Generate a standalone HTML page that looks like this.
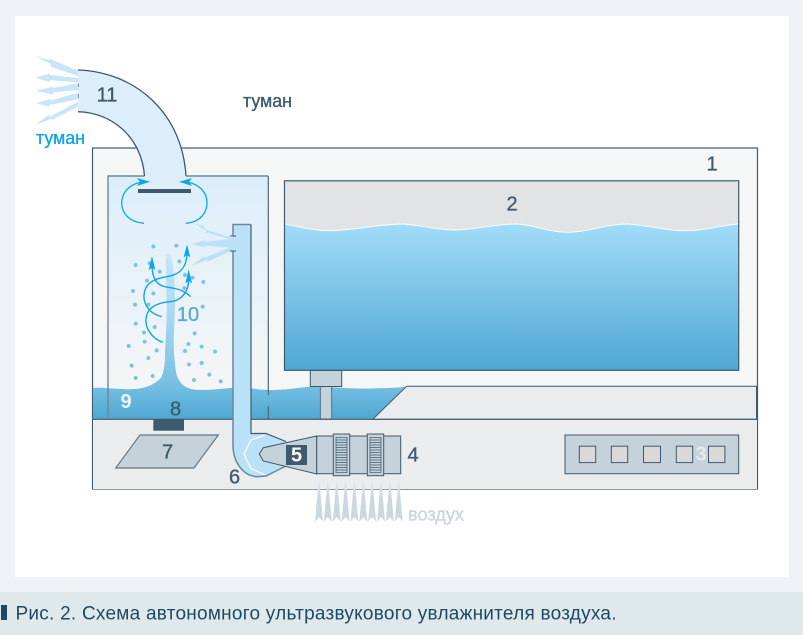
<!DOCTYPE html>
<html><head><meta charset="utf-8"><style>
html,body{margin:0;padding:0;background:#eef4f5;}
svg{display:block}
text{font-family:"Liberation Sans",sans-serif;}
</style></head><body>
<svg width="803" height="635" viewBox="0 0 803 635" xmlns="http://www.w3.org/2000/svg">
<defs>
<linearGradient id="w" gradientUnits="userSpaceOnUse" x1="0" y1="224" x2="0" y2="370"><stop offset="0" stop-color="#a2dcf8"/><stop offset="1" stop-color="#50a8d3"/></linearGradient>
<linearGradient id="p" gradientUnits="userSpaceOnUse" x1="0" y1="253" x2="0" y2="419"><stop offset="0" stop-color="#c6e6f6"/><stop offset=".4" stop-color="#a6d7f0"/><stop offset=".8" stop-color="#75bfe4"/><stop offset="1" stop-color="#4fa7d1"/></linearGradient>
<linearGradient id="c" gradientUnits="userSpaceOnUse" x1="0" y1="176" x2="0" y2="390"><stop offset="0" stop-color="#dceefa"/><stop offset="1" stop-color="#f5f6f6"/></linearGradient>
<linearGradient id="s" gradientUnits="userSpaceOnUse" x1="0" y1="477" x2="0" y2="522"><stop offset="0" stop-color="#e4eaee"/><stop offset=".45" stop-color="#ccd8df"/><stop offset="1" stop-color="#ccd8df"/></linearGradient>
</defs>
<rect width="803" height="635" fill="#eef4f5"/>
<rect x="15" y="16" width="774" height="561" fill="#fff"/>
<rect x="0" y="592" width="803" height="43" fill="#dfe9ec"/>
<rect x="1" y="605" width="6" height="15" fill="#1d4a62"/>
<text x="15.500" y="619.500" font-size="19" fill="#1d4a62" textLength="601" lengthAdjust="spacing">Рис. 2. Схема автономного ультразвукового увлажнителя воздуха.</text>

<!-- outer box -->
<rect x="92.500" y="148" width="665" height="341" fill="#f5f6f6" stroke="#3e5a6e" stroke-width="1.200"/>
<rect x="93" y="419" width="664" height="70" fill="#ebecee"/>

<!-- chamber -->
<rect x="108" y="176" width="160.500" height="243" fill="url(#c)"/>

<!-- water & plume -->
<path d="M93,388 C105,387 120,390 135,389 C148,388 157,383 161.700,376.700 C165,368 165,358 165,353 C166,335 167,315 166.700,300 C166,285 166,272 166,263 C166,258 167,254 168.300,253.300 C170,255 172,259 172.700,263 C174,275 175,288 175,300 C175,318 173,338 174,353 C175,362 175,370 177.300,376.700 C180,383 184,388 194,389.500 C210,391 222,388 240,387.500 C252,388 260,390 272,390 C285,390 295,388 308,387 C325,386 345,389 370,388.500 C385,388 398,388 407,386.500 L373,419 L93,419 Z" fill="url(#p)"/>

<!-- chamber walls -->
<path d="M108,419 L108,176 L144.500,176 M186,176 L268.300,176" fill="none" stroke="#6f8797" stroke-width="1.400"/>
<path d="M268.300,176 L268.300,395 M268.300,406 L268.300,419" fill="none" stroke="#4d6779" stroke-width="1.200"/>

<!-- pipe 11 -->
<path d="M78,70 C135,72 182,112 186,176 L144.500,176 C142,140 115,113 78,111.700 Z" fill="#dbeefa"/>
<path d="M78,70 C135,72 182,112 186,176 M78,111.700 C115,113 142,140 144.500,176" fill="none" stroke="#3e5a6e" stroke-width="1.300"/>
<path d="M78,83.500 V87 M78,94 V98" stroke="#3e5a6e" stroke-width="1.100" fill="none"/>

<!-- fog jets left -->
<g fill="#c8e6f7">
<path d="M35,56 L50,60.500 L49,58.500 L78,70.700 L78,76 L50,66.500 L51,64 Z"/>
<path d="M35,77.700 L50,73.500 L50,75 L78,78 L78,82.500 L50,80 L50,82 Z"/>
<path d="M36,90.700 L53,86.500 L53,88 L78,83.300 L78,90 L53,92.500 L53,94.500 Z"/>
<path d="M36,103 L50,99 L50,100.500 L78,92.700 L78,99.300 L49,105 L50,107 Z"/>
<path d="M35,125 L50,114 L49,117 L78,101.700 L78,106.700 L50,120.700 L52,118.500 Z"/>
</g>
<!-- fog jets chamber -->
<g fill="#bce1f6">
<path d="M194,223.300 L205,226.800 L204,229 L233,238 L233,240 L205,232 L207,231 Z"/>
<path d="M191.700,244 L205,240.500 L205,242 L233,238.500 L233,248 L205,245.500 L205,247.500 Z"/>
<path d="M191.700,265.700 L205,255.500 L204,258 L233,246 L233,250 L206.700,262 L208,259.500 Z"/>
</g>

<!-- tube 6 upper -->
<path d="M233,236 V224.500 H251 V419 H233 V251" fill="#b9e1f8"/>
<path d="M233,236 V224.500 H251 M233,251 V419" fill="none" stroke="#6f8797" stroke-width="1.500"/>
<path d="M251,224.500 V419" fill="none" stroke="#3e5a6e" stroke-width="1.200"/>
<path d="M230,236 H236 M230,251 H236" stroke="#3e5a6e" stroke-width="1"/>

<!-- blue arrows top -->
<g fill="none" stroke="#0ea5ea" stroke-width="1.300">
<path d="M144,223.300 C128,222 121.700,212 121.700,203 C121.700,192 130,184 142,182"/>
<path d="M185.700,223.300 C201,222 207,212 207,203 C207,192 199,184 187,182"/>
</g>
<path d="M150,181.700 L137,178 L140,182 L137,186 Z M179,181.700 L192,178 L189,182 L192,186 Z" fill="#0ea5ea"/>
<rect x="138" y="189" width="53" height="4" fill="#3e5a6e"/>

<!-- dots and S arrows -->
<g transform="translate(100,220) scale(.33333)">
<g fill="#7cc3e8">
<circle cx="160" cy="79" r="6"/><circle cx="229" cy="77" r="6"/><circle cx="107" cy="135" r="6"/><circle cx="149" cy="130" r="6"/><circle cx="238" cy="124" r="6"/><circle cx="179" cy="155" r="6"/><circle cx="141" cy="182" r="6"/><circle cx="255" cy="165" r="6"/><circle cx="277" cy="173" r="6"/><circle cx="310" cy="186" r="6"/><circle cx="99" cy="213" r="6"/><circle cx="160" cy="220" r="6"/><circle cx="253" cy="204" r="6"/><circle cx="105" cy="254" r="6"/><circle cx="145" cy="254" r="6"/><circle cx="308" cy="260" r="6"/><circle cx="107" cy="311" r="6"/><circle cx="164" cy="321" r="6"/><circle cx="132" cy="338" r="6"/><circle cx="284" cy="340" r="6"/><circle cx="134" cy="365" r="6"/><circle cx="265" cy="372" r="6"/><circle cx="86" cy="378" r="6"/><circle cx="305" cy="380" r="6"/><circle cx="170" cy="391" r="6"/><circle cx="255" cy="393" r="6"/><circle cx="345" cy="395" r="6"/><circle cx="145" cy="414" r="6"/><circle cx="95" cy="437" r="6"/><circle cx="267" cy="433" r="6"/><circle cx="305" cy="429" r="6"/><circle cx="107" cy="474" r="6"/><circle cx="158" cy="468" r="6"/><circle cx="328" cy="464" r="6"/><circle cx="282" cy="480" r="6"/><circle cx="362" cy="484" r="6"/>
</g>
<g fill="none" stroke="#0ea5ea" stroke-width="4.200">
<path d="M185,290 C150,282 130,255 132,225 C134,190 165,175 200,170 C240,165 262,140 261,95"/>
<path d="M188,367 C155,355 135,325 138,295 C142,262 170,248 210,245 C245,242 268,215 266,170"/>
<path d="M272,230 C245,205 220,205 195,200 C170,195 155,175 156,130"/>
</g>
<path d="M261,73 L271,112 L261,105 L251,112 Z M266,148 L276,190 L266,183 L256,190 Z M156,108 L166,150 L156,143 L146,150 Z" fill="#0ea5ea"/>
</g>

<!-- tank -->
<rect x="284.500" y="180.800" width="454.200" height="189.500" fill="#e1e3e5"/>
<path d="M284.500,224 C305,228 315,231 333,230.700 C355,230 380,224 403,224 C422,225 435,230 455,230 C475,230 495,224 517,224 C535,225 548,232 567,232.300 C590,232 605,224 627,224 C648,225 665,230.700 685,230.700 C705,231 720,225 738.700,224 L738.700,370.300 L284.500,370.300 Z" fill="url(#w)"/>
<path d="M284.500,224 C305,228 315,231 333,230.700 C355,230 380,224 403,224 C422,225 435,230 455,230 C475,230 495,224 517,224 C535,225 548,232 567,232.300 C590,232 605,224 627,224 C648,225 665,230.700 685,230.700 C705,231 720,225 738.700,224" fill="none" stroke="#fff" stroke-width=".9"/>
<rect x="284.500" y="180.800" width="454.200" height="189.500" fill="none" stroke="#3e5a6e" stroke-width="1.200"/>

<!-- stand -->
<rect x="320.300" y="386" width="11.400" height="33" fill="#c5d2da" stroke="#3e5a6e" stroke-width=".8"/>
<rect x="310.300" y="370.500" width="31.400" height="16" fill="#c5d2da" stroke="#3e5a6e" stroke-width="1"/>

<!-- slab -->
<path d="M406.700,386.200 L756.500,386.200 L756.500,419.300 L372.700,419.300 Z" fill="#ebecee" stroke="#3e5a6e" stroke-width="1"/>

<!-- lower box -->
<path d="M92.500,419.300 H757.500" stroke="#3e5a6e" stroke-width="1.200"/>
<path d="M233,418 V445 C233,462 243,476 257,476.700 L266,476 L285,466 V441 L266,433.500 H251 V418 Z" fill="#b9e1f8"/>
<path d="M233,418 V445 C233,462 243,476 257,476.700 L266,476 L286,466" fill="none" stroke="#6f8797" stroke-width="1.500"/>
<path d="M251,418 V433.500 H266 L286,441.500" fill="none" stroke="#3e5a6e" stroke-width="1.200"/>
<path d="M265,435 L251,440 L244,454 L250.700,468.300 L265,475" fill="none" stroke="#fff" stroke-width="1.200"/>

<rect x="153.300" y="419.500" width="30.700" height="11.200" fill="#3e5a6e"/>
<path d="M140,435 H218.300 L194,468 H115.700 Z" fill="#c5d2da" stroke="#5f7a8a" stroke-width="1.200"/>

<!-- cone -->
<path d="M316.700,436 L263.300,447.700 L259.300,454 L263.300,461 L316.700,474 Z" fill="#c5d2da" stroke="#3e5a6e" stroke-width="1"/>
<rect x="286" y="445" width="21" height="20" fill="#3e5a6e"/>

<!-- fan -->
<rect x="316.700" y="436" width="84" height="37.700" fill="#c5d2da" stroke="#3e5a6e" stroke-width="1"/>
<g>
<rect x="333.300" y="434" width="16.400" height="41.700" fill="#c5d2da" stroke="#3e5a6e" stroke-width="1"/>
<rect x="336" y="437.500" width="11" height="35" fill="#c5d2da" stroke="#3e5a6e" stroke-width=".7"/>
<path d="M336,440 H347 M336,442.500 H347 M336,445 H347 M336,447.500 H347 M336,450 H347 M336,452.500 H347 M336,455 H347 M336,457.500 H347 M336,460 H347 M336,462.500 H347 M336,465 H347 M336,467.500 H347 M336,470 H347" stroke="#3e5a6e" stroke-width=".8"/>
<rect x="367.300" y="434" width="16.400" height="41.700" fill="#c5d2da" stroke="#3e5a6e" stroke-width="1"/>
<rect x="370" y="437.500" width="11" height="35" fill="#c5d2da" stroke="#3e5a6e" stroke-width=".7"/>
<path d="M370,440 H381 M370,442.500 H381 M370,445 H381 M370,447.500 H381 M370,450 H381 M370,452.500 H381 M370,455 H381 M370,457.500 H381 M370,460 H381 M370,462.500 H381 M370,465 H381 M370,467.500 H381 M370,470 H381" stroke="#3e5a6e" stroke-width=".8"/>
</g>

<!-- air spikes -->
<g fill="url(#s)">
<path d="M319,477.300 L323,521.700 L319,517 L315,521.700 Z"/>
<path d="M327.800,477.300 L331.800,521.700 L327.800,517 L323.800,521.700 Z"/>
<path d="M336.700,477.300 L340.700,521.700 L336.700,517 L332.700,521.700 Z"/>
<path d="M345.600,477.300 L349.600,521.700 L345.600,517 L341.600,521.700 Z"/>
<path d="M354.400,477.300 L358.400,521.700 L354.400,517 L350.400,521.700 Z"/>
<path d="M363.300,477.300 L367.300,521.700 L363.300,517 L359.300,521.700 Z"/>
<path d="M372.100,477.300 L376.100,521.700 L372.100,517 L368.100,521.700 Z"/>
<path d="M381,477.300 L385,521.700 L381,517 L377,521.700 Z"/>
<path d="M389.900,477.300 L393.900,521.700 L389.900,517 L385.900,521.700 Z"/>
<path d="M398.700,477.300 L402.700,521.700 L398.700,517 L394.700,521.700 Z"/>
</g>

<!-- control panel -->
<rect x="565" y="435" width="173.700" height="38.700" fill="#c5d2da" stroke="#3e5a6e" stroke-width="1"/>
<g fill="#d9d9d9" stroke="#3e5a6e" stroke-width="1">
<rect x="579.300" y="446.200" width="16.400" height="16.400"/>
<rect x="611.300" y="446.200" width="16.400" height="16.400"/>
<rect x="643.500" y="446.200" width="17" height="16.400"/>
<rect x="676.300" y="446.200" width="16.400" height="16.400"/>
<rect x="708.500" y="446.200" width="16.400" height="16.400"/>
</g>

<!-- labels -->
<g font-size="20" fill="#3e5a6e" stroke="#3e5a6e" stroke-width=".35" text-anchor="middle">
<text x="107" y="101.500">11</text>
<text x="712" y="170.500">1</text>
<text x="512" y="210.500">2</text>
<text x="413" y="461.500">4</text>
<text x="234.500" y="483.500">6</text>
<text x="167.500" y="458.500">7</text>
<text x="175.500" y="415.500">8</text>
</g>
<text x="701" y="460.500" font-size="20" font-weight="bold" fill="#e3e9ec" text-anchor="middle">3</text>
<text x="296.500" y="461.500" font-size="20" font-weight="bold" fill="#fff" text-anchor="middle">5</text>
<text x="126" y="408" font-size="20" font-weight="bold" fill="#e8f4fa" text-anchor="middle">9</text>
<text x="188" y="321" font-size="20" fill="#5aaad4" stroke="#5aaad4" stroke-width=".35" text-anchor="middle">10</text>
<g font-size="18">
<text x="243" y="107" fill="#3e5a6e" stroke="#3e5a6e" stroke-width=".35" textLength="49" lengthAdjust="spacingAndGlyphs">туман</text>
<text x="36" y="144" fill="#0ea5ea" stroke="#0ea5ea" stroke-width=".35" textLength="49" lengthAdjust="spacingAndGlyphs">туман</text>
<text x="408" y="520.500" fill="#ccd6dd" stroke="#ccd6dd" stroke-width=".4" textLength="56" lengthAdjust="spacingAndGlyphs">воздух</text>
</g>
</svg>
</body></html>
